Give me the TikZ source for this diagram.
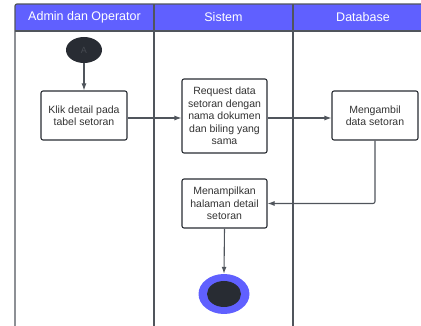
\documentclass[tikz,border=0pt]{standalone}
\usepackage{fontspec}
\setmainfont{Liberation Sans}
\usetikzlibrary{arrows.meta,shapes.geometric}
\definecolor{hdr}{RGB}{96,96,255}
\definecolor{dark}{RGB}{40,44,51}
\definecolor{lane}{RGB}{80,85,92}
\definecolor{txt}{RGB}{51,51,51}
\begin{document}
\begin{tikzpicture}[x=1pt,y=-1pt,
  actbox/.style={draw=dark,line width=1.1pt,rounded corners=2pt,fill=white,align=center,
    font=\fontsize{10.5}{12.5}\selectfont,text=txt,inner sep=0pt},
  conn/.style={draw=lane,line width=1.1pt,-{Latex[length=7pt,width=5pt]}},
  hdrtext/.style={text=white,font=\fontsize{12.5}{14}\selectfont}]
\useasboundingbox (0,0) rectangle (421,326);
% header
\fill[hdr] (15,4) rectangle (421,31);
\draw[lane,line width=1.2pt,rounded corners=2pt] (15,326) -- (15,4) -- (421,4);
\draw[lane,line width=1.2pt] (15,31) -- (421,31);
\draw[lane,line width=1.2pt] (154,4) -- (154,326);
\draw[lane,line width=1.2pt] (293,4) -- (293,326);
\node[hdrtext] (h1) at (84.5,17.5) {Admin dan Operator};
\node[hdrtext] (h2) at (223.5,17.5) {Sistem};
\node[hdrtext] (h3) at (363,17.5) {Database};
% nodes
\node[ellipse,fill=dark,minimum width=36pt,minimum height=26pt,inner sep=0pt,
  text={rgb,255:red,70;green,74;blue,81},font=\fontsize{9}{10}\selectfont] (start) at (84,50) {A};
\node[actbox,minimum width=86pt,minimum height=49pt] (b1) at (84,115.5) {Klik detail pada\\tabel setoran};
\node[actbox,minimum width=85pt,minimum height=74pt] (b2) at (224.5,116) {Request data\\setoran dengan\\nama dokumen\\dan biling yang\\sama};
\node[actbox,minimum width=86pt,minimum height=49pt] (b3) at (375,115.5) {Mengambil\\data setoran};
\node[actbox,minimum width=85pt,minimum height=49pt] (b4) at (224.5,203.5) {Menampilkan\\halaman detail\\setoran};
\node[ellipse,fill=hdr,minimum width=51pt,minimum height=40pt,inner sep=0pt] (end) at (224,294) {};
\node[ellipse,fill=dark,minimum width=34pt,minimum height=26pt,inner sep=0pt] (endin) at (224,294) {};
% connectors
\draw[conn] (start) -- (b1);
\draw[conn] (b1.east) ++(0,2.5) coordinate (c1) -- (c1 -| b2.west);
\draw[conn] (b2.east) ++(0,2) coordinate (c2) -- (c2 -| b3.west);
\draw[conn,rounded corners=2pt] (b3.south) |- (b4.east);
\draw[conn] (b4.south) -- (end.north);
\end{tikzpicture}
\end{document}
